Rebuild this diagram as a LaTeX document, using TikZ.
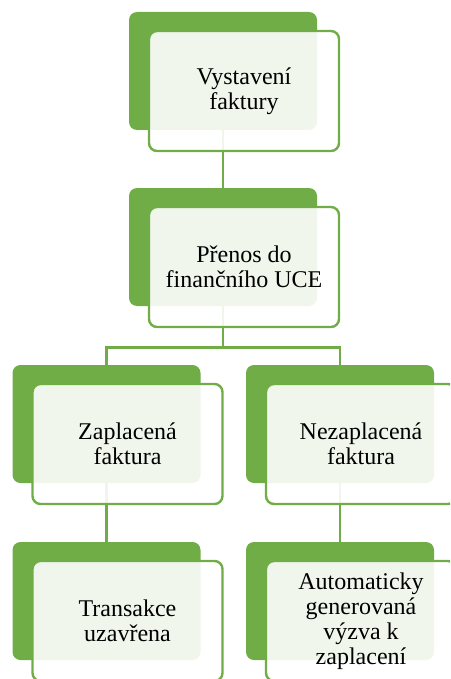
\documentclass[tikz,border=0pt]{standalone}
\usepackage{fontspec}
\setmainfont{Liberation Serif}
\usepackage{xcolor}

\definecolor{accgreen}{HTML}{70AD47}

\begin{document}
\begin{tikzpicture}[x=1pt, y=-1pt,
  back/.style={rectangle, rounded corners=8pt, fill=accgreen, inner sep=0pt,
    minimum width=188pt, minimum height=118pt},
  front/.style={rectangle, rounded corners=8pt, draw=accgreen, line width=2.4pt,
    fill=white, fill opacity=0.9, text opacity=1, inner sep=0pt,
    minimum width=190pt, minimum height=120pt, align=center,
    font=\fontsize{24}{25}\selectfont},
  link/.style={draw=accgreen, line width=2.6pt}]

\useasboundingbox (0,0) rectangle (450,679);
\clip (0,0) rectangle (450,679);

% Back boxes
\node[back] (vyst-b) at (223,71) {};
\node[back] (prenos-b) at (223,247) {};
\node[back] (zapl-b) at (106.5,424) {};
\node[back] (nezapl-b) at (340,424) {};
\node[back] (trans-b) at (106.5,601) {};
\node[back] (auto-b) at (340,601) {};

% Connectors
\coordinate (split) at ([shift={(0,41)}]prenos-b.south);
\draw[link] (vyst-b.south) -- (prenos-b.north);
\draw[link] (prenos-b.south) -- (split) -| (zapl-b.north);
\draw[link] (split) -| (nezapl-b.north);
\draw[link] (zapl-b.south) -- (trans-b.north);
\draw[link] (nezapl-b.south) -- (auto-b.north);

% Front boxes with text
\node[front] (vyst) at ([shift={(21,20)}]vyst-b) {Vystavení\\faktury};
\node[front] (prenos) at ([shift={(21,20)}]prenos-b) {Přenos do\\finančního UCE};
\node[front] (zapl) at ([shift={(21,20)}]zapl-b) {Zaplacená\\faktura};
\node[front] (nezapl) at ([shift={(21,20)}]nezapl-b) {Nezaplacená\\faktura};
\node[front] (trans) at ([shift={(21,20)}]trans-b) {Transakce\\uzavřena};
\node[front] (auto) at ([shift={(21,20)}]auto-b) {Automaticky\\generovaná\\výzva k\\zaplacení};

\end{tikzpicture}
\end{document}
